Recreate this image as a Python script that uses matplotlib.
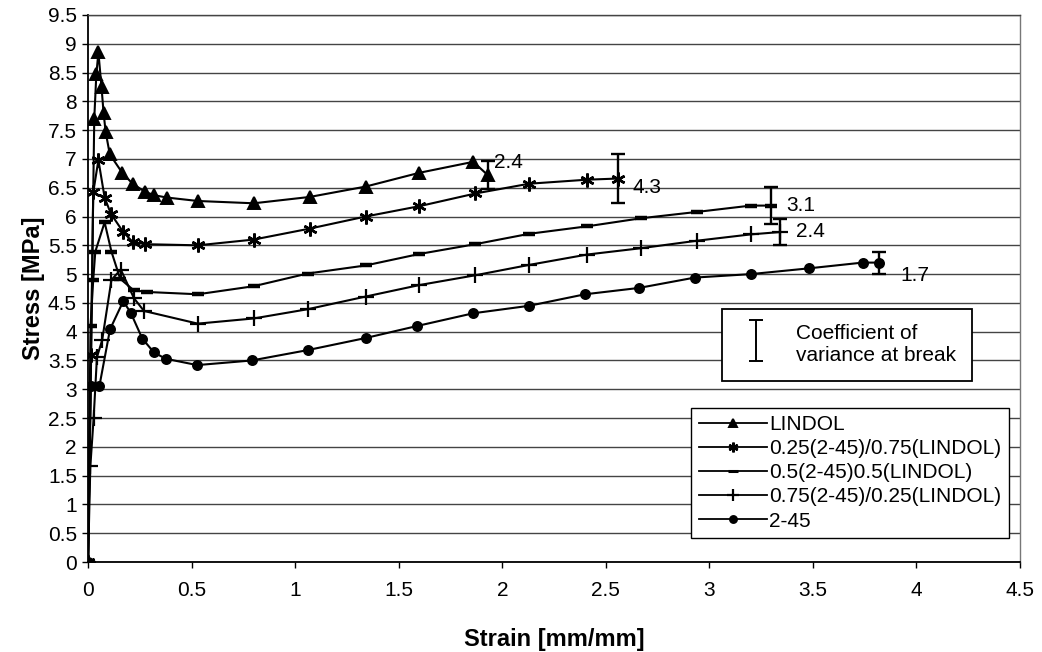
import matplotlib.pyplot as plt
import numpy as np
from matplotlib.lines import Line2D
from matplotlib.legend_handler import HandlerErrorbar

plt.rcParams['font.family'] = ['Liberation Sans', 'DejaVu Sans']

# stress-strain curves (strain mm/mm, stress MPa)
lindol_x = [0, 0.03, 0.04, 0.05, 0.065, 0.075, 0.085, 0.105, 0.165, 0.215, 0.275, 0.32, 0.38, 0.53, 0.80, 1.07, 1.34, 1.60, 1.86, 1.93]
lindol_y = [0, 7.7, 8.47, 8.85, 8.25, 7.8, 7.47, 7.08, 6.76, 6.57, 6.43, 6.37, 6.33, 6.27, 6.23, 6.34, 6.52, 6.76, 6.95, 6.72]

mix25_x = [0, 0.015, 0.025, 0.05, 0.08, 0.11, 0.17, 0.215, 0.275, 0.53, 0.80, 1.07, 1.34, 1.60, 1.87, 2.13, 2.41, 2.56]
mix25_y = [0, 3.6, 6.42, 6.98, 6.33, 6.05, 5.73, 5.56, 5.52, 5.5, 5.6, 5.79, 6.0, 6.18, 6.4, 6.57, 6.64, 6.66]

mix50_x = [0, 0.012, 0.025, 0.035, 0.08, 0.113, 0.155, 0.22, 0.285, 0.53, 0.80, 1.06, 1.34, 1.60, 1.87, 2.13, 2.41, 2.67, 2.94, 3.20, 3.30]
mix50_y = [0, 4.1, 4.9, 5.39, 5.9, 5.39, 4.92, 4.72, 4.69, 4.65, 4.79, 5.01, 5.15, 5.35, 5.52, 5.7, 5.83, 5.97, 6.08, 6.19, 6.19]

mix75_x = [0, 0.011, 0.027, 0.043, 0.068, 0.113, 0.158, 0.222, 0.27, 0.53, 0.80, 1.06, 1.34, 1.60, 1.87, 2.13, 2.41, 2.67, 2.94, 3.20, 3.34]
mix75_y = [0, 1.66, 2.5, 3.56, 3.85, 4.9, 5.08, 4.58, 4.36, 4.14, 4.23, 4.39, 4.61, 4.81, 4.98, 5.16, 5.34, 5.45, 5.58, 5.69, 5.73]

b245_x = [0, 0.013, 0.055, 0.106, 0.17, 0.206, 0.262, 0.318, 0.375, 0.527, 0.79, 1.06, 1.34, 1.59, 1.86, 2.13, 2.40, 2.66, 2.93, 3.20, 3.48, 3.74, 3.82]
b245_y = [0, 3.06, 3.06, 4.04, 4.53, 4.33, 3.88, 3.64, 3.53, 3.42, 3.5, 3.68, 3.89, 4.1, 4.32, 4.45, 4.65, 4.76, 4.94, 5.0, 5.1, 5.2, 5.2]

labels = ['LINDOL', '0.25(2-45)/0.75(LINDOL)', '0.5(2-45)0.5(LINDOL)',
          '0.75(2-45)/0.25(LINDOL)', '2-45']
markers = ['^', (6, 2, 0), '_', '+', 'o']
msizes = [8, 10, 9, 11, 6.5]
mews = [1.4, 1.8, 3.2, 1.6, 1.4]
leg_msizes = [5.5, 7, 7, 8, 5]

# coefficient of variance at break
cov = ['2.4', '4.3', '3.1', '2.4', '1.7']
cov_err = [0.25, 0.42, 0.32, 0.23, 0.19]
cov_text_x = [1.96, 2.63, 3.37, 3.42, 3.92]
cov_text_y = [6.93, 6.5, 6.2, 5.74, 4.98]

series = [(lindol_x, lindol_y), (mix25_x, mix25_y), (mix50_x, mix50_y),
          (mix75_x, mix75_y), (b245_x, b245_y)]

fig = plt.figure(figsize=(10.42, 6.52), dpi=100)
ax = fig.add_axes([0.0845, 0.138, 0.8944, 0.839])

handles = []
for i, (xs, ys) in enumerate(series):
    ax.plot(xs, ys, color='black', lw=1.5, marker=markers[i], ms=msizes[i],
            mew=mews[i], mfc='black', mec='black', zorder=3)
    ax.errorbar(xs[-1], ys[-1], yerr=cov_err[i], fmt='none', ecolor='black',
                elinewidth=1.7, capsize=5, capthick=1.7, zorder=4)
    ax.text(cov_text_x[i], cov_text_y[i], cov[i], fontsize=15, ha='left', va='center')
    # smaller markers for the legend keys
    handles.append(Line2D([], [], color='black', lw=1.3, marker=markers[i],
                          ms=leg_msizes[i], mew=min(mews[i], 2.2), mfc='black',
                          mec='black', label=labels[i]))

ax.set_xlim(0, 4.5)
ax.set_ylim(0, 9.5)
ax.set_xticks(np.arange(0, 4.51, 0.5))
ax.set_yticks(np.arange(0, 9.51, 0.5))
ax.set_xticklabels(['0', '0.5', '1', '1.5', '2', '2.5', '3', '3.5', '4', '4.5'])
ax.set_yticklabels(['%g' % v for v in np.arange(0, 9.51, 0.5)])
ax.tick_params(labelsize=15, length=4, width=1, direction='out', color='black')
ax.tick_params(axis='x', pad=10)
ax.tick_params(axis='y', pad=4)
ax.yaxis.grid(True, color='#444444', lw=1)
ax.set_axisbelow(True)
ax.spines['top'].set_color('#444444')
ax.spines['top'].set_linewidth(1)
ax.spines['right'].set_color('#777777')
ax.spines['right'].set_linewidth(1)
for s in ['left', 'bottom']:
    ax.spines[s].set_color('black')
    ax.spines[s].set_linewidth(1.3)

ax.set_xlabel('Strain [mm/mm]', fontsize=17, fontweight='bold', labelpad=20)
ax.set_ylabel('Stress [MPa]', fontsize=17, fontweight='bold')
ax.yaxis.set_label_coords(-0.046, 0.5)

leg = ax.legend(handles=handles, loc='lower right', bbox_to_anchor=(0.988, 0.044),
                fontsize=15, frameon=True, fancybox=False, edgecolor='black',
                framealpha=1, labelspacing=0.25, handlelength=3.3, handletextpad=0.1,
                borderpad=0.35, borderaxespad=0)
leg.get_frame().set_linewidth(1)
ax.add_artist(leg)

proxy = ax.errorbar([np.nan], [np.nan], yerr=[1], fmt='none', ecolor='black',
                    elinewidth=1.4, capsize=5, capthick=1.4)
leg2 = ax.legend([proxy], ['Coefficient of\nvariance at break'], loc='center',
                 bbox_to_anchor=(0.814, 0.397), fontsize=15, frameon=True,
                 fancybox=False, edgecolor='black', framealpha=1,
                 handlelength=1.8, handleheight=2.2, handletextpad=1.0,
                 borderpad=0.75, borderaxespad=0,
                 handler_map={type(proxy): HandlerErrorbar(yerr_size=1.0)})
leg2.get_frame().set_linewidth(1.3)

fig.savefig('out.png', dpi=100)
